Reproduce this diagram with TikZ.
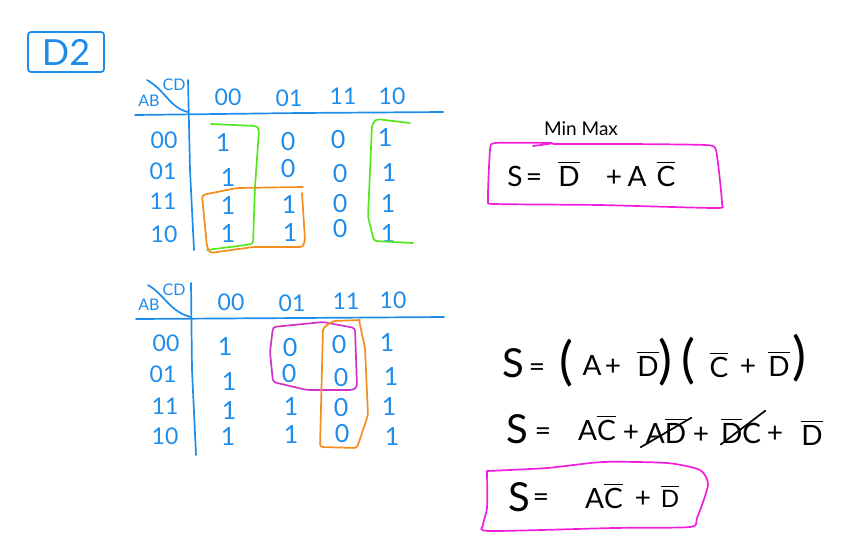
\documentclass[tikz,border=0pt]{standalone}
\usepackage{amsmath}
\usepackage{fontspec}
\setmainfont{Lato}
\usepackage{xcolor}
\usetikzlibrary{calc}
\definecolor{penblue}{HTML}{1E8CEB}
\definecolor{pengreen}{HTML}{55E61E}
\definecolor{penorange}{HTML}{F58C1E}
\definecolor{penpink}{HTML}{F01EDC}
\definecolor{penpurple}{HTML}{D232C3}
\newcommand{\nbar}[1]{$\overline{\hbox{#1}}$}
\tikzset{
  dig/.style  = {text=penblue, inner sep=0pt, font=\fontsize{25}{25}\selectfont},
  hdr/.style  = {text=penblue, inner sep=0pt, font=\fontsize{23}{23}\selectfont},
  tag/.style  = {text=penblue, inner sep=0pt, font=\fontsize{16}{16}\selectfont},
  eq/.style   = {text=black, inner sep=0pt, anchor=base, font=\fontsize{28}{28}\selectfont},
  eqs/.style  = {text=black, inner sep=0pt, anchor=base, font=\fontsize{24}{24}\selectfont},
  eqb/.style  = {text=black, inner sep=0pt, anchor=base, font=\fontsize{40}{40}\selectfont},
  par/.style  = {text=black, inner sep=0pt, font=\fontsize{52}{52}\selectfont},
  pen/.style  = {line width=1.7pt, line join=round, line cap=round},
  loop/.style = {pen, rounded corners=3pt},
  grid/.style = {pen, draw=penblue},
}
\begin{document}
\begin{tikzpicture}[x=1pt,y=-1pt]
  \useasboundingbox (0,0) rectangle (848,558);
  \node[draw=penblue, line width=1.7pt, rounded corners=3pt, minimum width=76pt, minimum height=40pt,
        text=penblue, inner sep=0pt, font=\fontsize{36}{36}\selectfont] (title) at (66,52) {D2};

  \draw[grid] (135,115) -- (300,113) -- (443,112);
  \draw[grid] (188,80) -- (190,170) -- (194,250);
  \draw[grid] (147,80) .. controls (165,90) and (170,108) .. (188,112);
  \node[tag] (tab) at (149,101) {AB}; \node[tag] (tcd) at (174,85) {CD};
  \node[hdr] (th1) at (228,97) {00}; \node[hdr] (th2) at (289,98) {01};
  \node[hdr] (th3) at (343,96) {11}; \node[hdr] (th4) at (392,96) {10};
  \node[hdr] (tr1) at (164,140) {00}; \node[hdr] (tr2) at (163,171) {01};
  \node[hdr] (tr3) at (163,201) {11}; \node[hdr] (tr4) at (164,234) {10};
  \node[dig] (t11) at (223,143) {1}; \node[dig] (t12) at (288,142) {0};
  \node[dig] (t13) at (338,140) {0}; \node[dig] (t14) at (385,138) {1};
  \node[dig] (t21) at (228,178) {1}; \node[dig] (t22) at (288,169) {0};
  \node[dig] (t23) at (340,174) {0}; \node[dig] (t24) at (389,173) {1};
  \node[dig] (t31) at (228,206) {1}; \node[dig] (t32) at (289,205) {1};
  \node[dig] (t33) at (340,204) {0}; \node[dig] (t34) at (388,204) {1};
  \node[dig] (t41) at (228,234) {1}; \node[dig] (t42) at (290,233) {1};
  \node[dig] (t43) at (340,229) {0}; \node[dig] (t44) at (388,234) {1};
  \draw[loop, pengreen] (211,124) -- (257,126) -- (259,130) -- (255,187) -- (253,244) -- (207,250);
  \draw[loop, pengreen] (410,123) -- (376,119) -- (372,125) -- (368,217) -- (374,241) -- (413,243);
  \draw[loop, penorange] (303,187) -- (237,188) -- (202,195) -- (207,247) -- (210,253) -- (253,247)
        -- (303,247) -- (305,240) -- (302,193);

  \draw[grid] (136,319) -- (300,318) -- (444,317);
  \draw[grid] (191,283) -- (192,370) -- (196,455);
  \draw[grid] (148,285) .. controls (165,295) and (170,312) .. (191,317);
  \node[tag] (bab) at (149,305) {AB}; \node[tag] (bcd) at (174,290) {CD};
  \node[hdr] (bh1) at (231,302) {00}; \node[hdr] (bh2) at (292,303) {01};
  \node[hdr] (bh3) at (346,301) {11}; \node[hdr] (bh4) at (393,300) {10};
  \node[hdr] (br1) at (166,343) {00}; \node[hdr] (br2) at (163,374) {01};
  \node[hdr] (br3) at (165,406) {11}; \node[hdr] (br4) at (165,436) {10};
  \node[dig] (b11) at (225,347) {1}; \node[dig] (b12) at (290,348) {0};
  \node[dig] (b13) at (339,345) {0}; \node[dig] (b14) at (387,343) {1};
  \node[dig] (b21) at (229,382) {1}; \node[dig] (b22) at (289,374) {0};
  \node[dig] (b23) at (341,378) {0}; \node[dig] (b24) at (391,377) {1};
  \node[dig] (b31) at (229,411) {1}; \node[dig] (b32) at (291,407) {1};
  \node[dig] (b33) at (341,408) {0}; \node[dig] (b34) at (389,407) {1};
  \node[dig] (b41) at (228,437) {1}; \node[dig] (b42) at (291,435) {1};
  \node[dig] (b43) at (342,434) {0}; \node[dig] (b44) at (392,437) {1};
  \draw[loop, penpurple] (273,327) -- (323,322) -- (355,328) -- (357,387) -- (353,390) -- (307,390)
        -- (273,382) -- (270,352) -- cycle;
  \draw[loop, penorange] (360,320) -- (333,321) -- (323,328) -- (320,447) -- (357,448) -- (368,415)
        -- (365,348) -- (359,320);

  \node[text=black, inner sep=0pt, font=\fontsize{19}{19}\selectfont] (mm) at (581,129) {Min Max};
  \draw[pen, penpink] plot[smooth, tension=0.3] coordinates {(533,146) (552,143) (495,143) (490,150)
        (488,200) (495,204) (600,205) (716,208) (722,203) (716,150) (705,145) (630,144) (553,144)};
  \node[eq] (s1) at (515,186) {S}; \node[eq] (e1) at (534,186) {=};
  \node[eq] (d1) at (569,186) {\nbar{D}}; \node[eq] (p1) at (614,186) {+};
  \node[eq] (a1) at (637,186) {A}; \node[eq] (c1) at (666,186) {\nbar{C}};

  \node[eqb] (s2) at (513,377) {S}; \node[eq] (e2) at (537,376) {=};
  \node[par] (l2) at (566,363) {(}; \node[eq] (a2) at (592,375) {A};
  \node[eq] (p2) at (613,375) {+}; \node[eq] (d2) at (648,376) {\nbar{D}};
  \node[par] (r2) at (665,362) {)}; \node[par] (l3) at (688,361) {(};
  \node[eq] (c2) at (719,377) {\nbar{C}}; \node[eq] (p3) at (748,375) {+};
  \node[eq] (d3) at (779,376) {\nbar{D}}; \node[par] (r3) at (799,358) {)};

  \node[eqb] (s3) at (517,443) {S}; \node[eq] (e3) at (543,440) {=};
  \node[eq] (ac3) at (597,440) {A\nbar{C}}; \node[eq] (p4) at (631,441) {+};
  \node[eq] (ad3) at (666,443) {A\nbar{D}}; \node[eq] (p5) at (701,443) {+};
  \node[eq] (dc3) at (741,443) {\nbar{D}C}; \node[eq] (p6) at (775,442) {+};
  \node[eq] (d4) at (812,445) {\nbar{D}};
  \draw[pen, black] ($(ad3.south west)+(-5,4)$) -- ($(ad3.north east)+(5,0)$);
  \draw[pen, black] ($(dc3.south west)+(0,1)$) -- ($(dc3.north east)+(4,-7)$);

  \node[eqb] (s4) at (519,511) {S}; \node[eq] (e4) at (541,506) {=};
  \node[eq] (ac4) at (604,508) {A\nbar{C}}; \node[eq] (p7) at (643,507) {+};
  \node[eqs] (d5) at (670,507) {\nbar{D}};
  \draw[pen, penpink] plot[smooth, tension=0.4] coordinates {(487,471) (547,468) (603,462) (667,463)
        (700,470) (708,485) (697,518) (690,527) (613,528) (490,531) (483,525) (487,508) (487,471)};
\end{tikzpicture}
\end{document}
